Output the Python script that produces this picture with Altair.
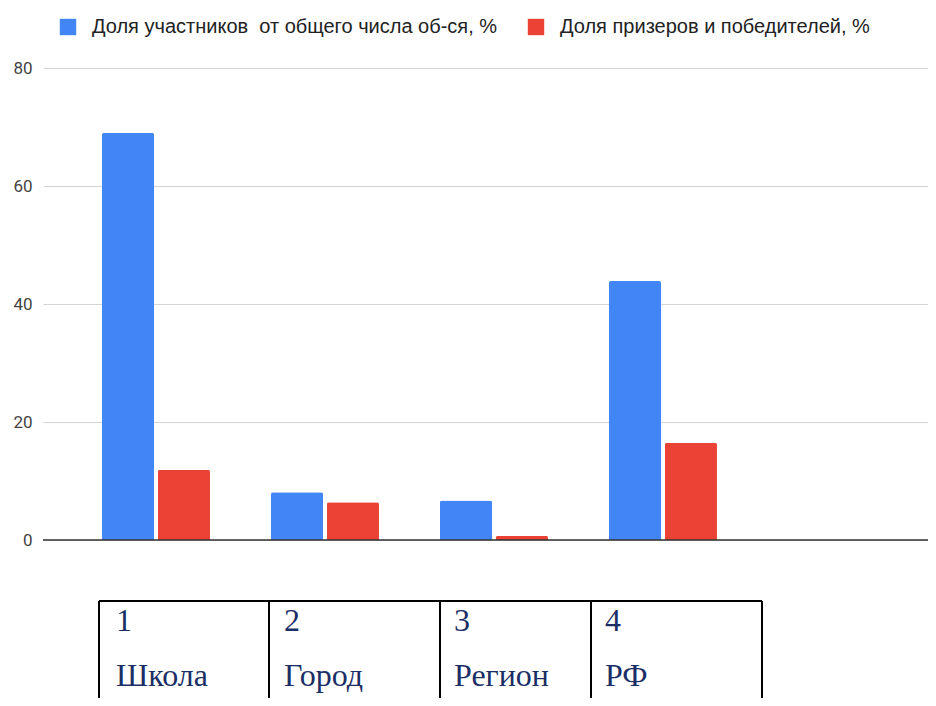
import altair as alt
import pandas as pd

# ---- data ----
categories = ["Школа", "Город", "Регион", "РФ"]
series_names = ["Доля участников \u00a0от общего числа об-ся, %",
                "Доля призеров и победителей, %"]
participants = [69.0, 8.1, 6.7, 43.9]
winners = [11.9, 6.4, 0.7, 16.5]
y_ticks = [0, 20, 40, 60, 80]
table_numbers = ["1", "2", "3", "4"]
table_names = ["Школа", "Город", "Регион", "РФ"]

# ---- layout constants ----
W, H = 885, 472
x_domain = categories + [""]
col_text_x = [73, 241, 411, 562]
col_edges = [56, 226, 397, 548, 719]
TABLE_TOP = 533

rows = []
for c, p, w in zip(categories, participants, winners):
    rows.append({"cat": c, "series": series_names[0], "value": p})
    rows.append({"cat": c, "series": series_names[1], "value": w})
df = pd.DataFrame(rows)

bars = alt.Chart(df).mark_bar(cornerRadiusTopLeft=2, cornerRadiusTopRight=2).encode(
    x=alt.X("cat:N", scale=alt.Scale(domain=x_domain, paddingInner=0.361,
                                     paddingOuter=0.299, align=0.584),
            axis=None, sort=x_domain),
    xOffset=alt.XOffset("series:N", scale=alt.Scale(paddingInner=0.07), sort=series_names),
    y=alt.Y("value:Q", scale=alt.Scale(domain=[0, 80], nice=False),
            axis=alt.Axis(values=y_ticks, title=None, domain=False, ticks=False,
                          labelPadding=11, labelFont="Roboto", labelFontSize=17,
                          labelColor="#444444", gridColor="#d4d4d4", gridWidth=1)),
    color=alt.Color("series:N",
                    scale=alt.Scale(domain=series_names, range=["#4285F4", "#EA4335"]),
                    legend=alt.Legend(title=None, orient="none", direction="horizontal",
                                      legendX=15, legendY=-51, padding=0,
                                      symbolType="square", symbolSize=270,
                                      symbolStrokeWidth=0, symbolOpacity=1,
                                      labelFont="Liberation Sans", labelFontSize=20,
                                      labelColor="#222222", labelLimit=700,
                                      labelOffset=14, columnPadding=28)),
)

baseline = alt.Chart(pd.DataFrame({"v": [0]})).mark_rule(color="#333333", strokeWidth=1.5).encode(
    y=alt.Y("v:Q")
)

xs = alt.Scale(domain=[0, W])

vlines = alt.Chart(pd.DataFrame({"e": col_edges})).mark_rule(color="#000000", strokeWidth=2).encode(
    x=alt.X("e:Q", scale=xs, axis=None),
    y=alt.value(TABLE_TOP),
    y2=alt.value(660),
)
hline = alt.Chart(pd.DataFrame({"a": [col_edges[0]], "b": [col_edges[-1]]})).mark_rule(
    color="#000000", strokeWidth=2).encode(
    x=alt.X("a:Q", scale=xs, axis=None),
    x2="b:Q",
    y=alt.value(TABLE_TOP),
)
tdf = pd.DataFrame({"tx": col_text_x, "num": table_numbers, "name": table_names})
nums = alt.Chart(tdf).mark_text(align="left", baseline="alphabetic", font="Liberation Serif",
                                fontSize=32, color="#1B2F66").encode(
    x=alt.X("tx:Q", scale=xs, axis=None), y=alt.value(563), text="num:N")
names = alt.Chart(tdf).mark_text(align="left", baseline="alphabetic", font="Liberation Serif",
                                 fontSize=32, color="#1B2F66").encode(
    x=alt.X("tx:Q", scale=xs, axis=None), y=alt.value(618), text="name:N")

chart = alt.layer(bars, baseline, vlines, hline, nums, names).resolve_scale(
    x="independent"
).properties(
    width=W, height=H,
    autosize=alt.AutoSizeParams(type="none"),
    padding={"left": 35, "top": 60, "right": 0, "bottom": 158},
).configure_view(stroke=None)

chart.save("out.html", embed_options={"renderer": "svg", "actions": False})
